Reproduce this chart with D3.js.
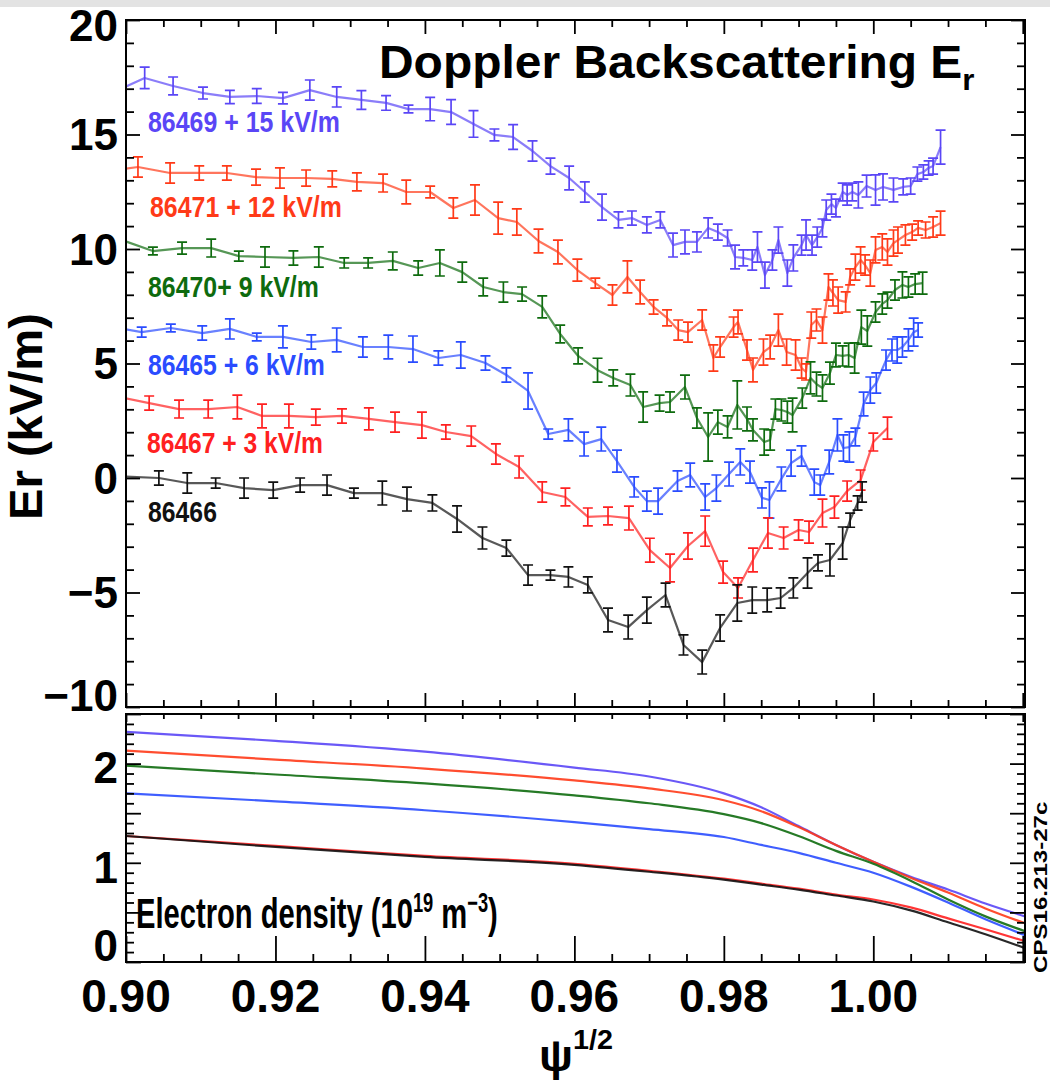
<!DOCTYPE html>
<html>
<head>
<meta charset="utf-8">
<script src="https://cdn.jsdelivr.net/npm/d3@7"></script>
<style>
  html, body { margin: 0; padding: 0; background: #fff; }
  svg { display: block; }
</style>
</head>
<body>
<svg id="chart" width="1050" height="1080"></svg>
<script>
// ---------------- Radial electric field (kV/m) vs psi^(1/2) ----------------
const shots   = ["86469", "86471", "86470", "86465", "86467", "86466"];
const offsets = [15, 12, 9, 6, 3, 0];
const legendText = ["86469 + 15 kV/m", "86471 + 12 kV/m", "86470+ 9 kV/m",
                    "86465 + 6 kV/m", "86467 + 3 kV/m", "86466"];

const psi86469 = [0.8975,0.9025,0.9063,0.9103,0.9139,0.9175,0.9210,0.9246,0.9282,0.9315,0.9348,0.9378,0.9407,0.9435,0.9465,0.9493,0.9518,0.9544,0.9568,0.9593,0.9614,0.9637,0.9659,0.9677,0.9697,0.9715,0.9732,0.9748,0.9764,0.9779,0.9792,0.9805,0.9815,0.9826,0.9838,0.9845,0.9855,0.9865,0.9873,0.9885,0.9893,0.9904,0.9910,0.9918,0.9925,0.9932,0.9937,0.9944,0.9950,0.9959,0.9965,0.9972,0.9980,0.9991,1.0003,1.0013,1.0027,1.0040,1.0050,1.0059,1.0067,1.0074,1.0080,1.0090];
const er86469  = [1.72,2.47,2.12,1.81,1.64,1.68,1.59,1.94,1.64,1.51,1.38,1.11,1.11,0.98,0.46,-0.02,-0.11,-0.72,-1.38,-1.90,-2.51,-3.17,-3.73,-3.65,-3.95,-3.73,-4.83,-4.69,-4.69,-4.08,-4.26,-4.52,-5.35,-5.39,-5.48,-4.91,-6.14,-5.48,-4.61,-6.05,-5.39,-4.83,-4.39,-4.83,-4.48,-4.08,-3.30,-3.04,-3.21,-2.51,-2.64,-2.51,-2.64,-2.25,-2.42,-2.29,-2.42,-2.29,-2.25,-1.73,-1.64,-1.46,-1.38,-0.55];
const err86469 = [0.44,0.47,0.39,0.26,0.29,0.32,0.25,0.44,0.44,0.41,0.32,0.17,0.51,0.54,0.58,0.26,0.54,0.44,0.35,0.52,0.44,0.57,0.35,0.31,0.35,0.35,0.52,0.52,0.44,0.44,0.35,0.35,0.52,0.35,0.44,0.66,0.57,0.44,0.57,0.57,0.57,0.44,0.66,0.44,0.44,0.39,0.44,0.44,0.39,0.39,0.44,0.39,0.57,0.48,0.66,0.57,0.52,0.35,0.35,0.31,0.31,0.31,0.35,0.74];

const psi86471 = [0.8985,0.9016,0.9059,0.9098,0.9135,0.9174,0.9206,0.9241,0.9276,0.9309,0.9344,0.9375,0.9407,0.9438,0.9467,0.9498,0.9523,0.9552,0.9578,0.9604,0.9628,0.9651,0.9671,0.9688,0.9706,0.9724,0.9739,0.9752,0.9771,0.9786,0.9795,0.9813,0.9819,0.9831,0.9839,0.9853,0.9862,0.9873,0.9884,0.9896,0.9904,0.9910,0.9917,0.9924,0.9932,0.9940,0.9946,0.9953,0.9963,0.9969,0.9976,0.9983,0.9989,0.9996,1.0003,1.0012,1.0019,1.0027,1.0033,1.0043,1.0052,1.0060,1.0070,1.0080,1.0090];
const er86471  = [1.45,1.58,1.32,1.32,1.32,1.14,1.10,1.10,1.06,0.93,0.88,0.49,0.49,-0.21,0.14,-0.65,-0.82,-1.65,-2.13,-2.92,-3.49,-4.01,-3.22,-3.88,-4.53,-5.01,-5.54,-5.63,-5.10,-6.76,-6.28,-5.41,-5.19,-6.41,-7.28,-6.50,-6.28,-5.54,-6.50,-6.63,-7.20,-7.37,-5.32,-5.10,-5.54,-3.66,-3.92,-4.23,-4.31,-3.22,-2.79,-2.48,-2.70,-3.05,-2.04,-1.91,-2.13,-1.74,-1.61,-1.39,-1.26,-1.08,-1.17,-1.04,-0.87];
const err86471 = [0.35,0.44,0.44,0.31,0.31,0.35,0.44,0.35,0.35,0.39,0.39,0.52,0.26,0.44,0.66,0.70,0.57,0.52,0.52,0.48,0.22,0.44,0.70,0.52,0.31,0.35,0.44,0.44,0.44,0.57,0.44,0.44,0.52,0.44,0.52,0.57,0.52,0.70,0.57,0.66,0.44,0.35,0.57,0.48,0.57,0.57,0.57,0.57,0.44,0.35,0.57,0.57,0.44,0.57,0.57,0.57,0.57,0.57,0.57,0.44,0.35,0.31,0.35,0.44,0.52];

const psi86470 = [0.8979,0.9036,0.9075,0.9114,0.9151,0.9186,0.9224,0.9258,0.9292,0.9324,0.9357,0.9391,0.9420,0.9450,0.9478,0.9505,0.9530,0.9557,0.9581,0.9605,0.9631,0.9652,0.9675,0.9692,0.9714,0.9728,0.9748,0.9764,0.9779,0.9792,0.9805,0.9818,0.9831,0.9839,0.9854,0.9862,0.9869,0.9877,0.9885,0.9892,0.9905,0.9916,0.9924,0.9932,0.9942,0.9950,0.9959,0.9967,0.9975,0.9984,0.9992,1.0003,1.0012,1.0019,1.0029,1.0039,1.0047,1.0056,1.0066];
const er86470  = [1.57,0.91,1.04,1.04,0.69,0.65,0.61,0.65,0.39,0.39,0.48,0.17,0.39,-0.01,-0.66,-0.88,-0.97,-1.53,-2.71,-3.67,-4.29,-4.63,-4.94,-5.90,-5.73,-5.68,-5.03,-6.38,-7.21,-6.56,-6.77,-5.81,-6.42,-6.90,-7.43,-7.34,-5.99,-6.03,-6.12,-6.25,-5.51,-4.63,-4.90,-5.07,-4.42,-3.63,-3.67,-3.63,-3.76,-2.41,-2.58,-1.75,-1.40,-1.23,-0.79,-0.57,-0.66,-0.53,-0.49];
const err86470 = [0.22,0.17,0.26,0.39,0.22,0.44,0.31,0.44,0.22,0.22,0.39,0.31,0.57,0.44,0.39,0.44,0.31,0.48,0.39,0.35,0.52,0.35,0.48,0.66,0.35,0.44,0.52,0.44,1.05,0.52,0.48,1.05,0.52,0.48,0.57,0.44,0.44,0.48,0.48,0.74,0.44,0.70,0.52,0.57,0.48,0.52,0.44,0.52,0.66,0.74,0.66,0.44,0.44,0.35,0.44,0.57,0.44,0.44,0.48];

const psi86465 = [0.8972,0.9021,0.9060,0.9102,0.9139,0.9175,0.9210,0.9248,0.9282,0.9317,0.9351,0.9384,0.9418,0.9448,0.9481,0.9509,0.9538,0.9565,0.9592,0.9613,0.9636,0.9657,0.9680,0.9697,0.9712,0.9738,0.9755,0.9775,0.9790,0.9807,0.9822,0.9835,0.9851,0.9861,0.9877,0.9890,0.9904,0.9921,0.9929,0.9941,0.9952,0.9960,0.9968,0.9976,0.9987,0.9996,1.0004,1.0017,1.0025,1.0032,1.0039,1.0047,1.0054,1.0060];
const er86465  = [0.64,0.37,0.55,0.33,0.51,0.16,0.16,-0.06,0.03,-0.28,-0.28,-0.37,-0.76,-0.63,-0.98,-1.50,-2.20,-4.08,-3.90,-4.52,-4.30,-5.26,-6.39,-7.01,-7.01,-6.13,-5.87,-6.83,-6.44,-5.83,-5.30,-5.74,-6.87,-6.96,-6.04,-5.35,-5.04,-6.18,-6.31,-5.30,-4.12,-4.69,-4.65,-4.21,-2.77,-2.16,-1.85,-0.85,-0.41,-0.41,-0.28,0.03,0.37,0.46];
const err86465 = [0.22,0.22,0.17,0.31,0.44,0.17,0.48,0.31,0.52,0.44,0.52,0.57,0.31,0.57,0.31,0.31,0.79,0.22,0.48,0.52,0.52,0.48,0.44,0.44,0.57,0.44,0.52,0.57,0.57,0.52,0.57,0.48,0.44,0.79,0.52,0.57,0.44,0.57,0.44,0.52,0.70,0.57,0.66,0.39,0.52,0.57,0.44,0.44,0.48,0.57,0.44,0.48,0.61,0.31];

const psi86467 = [0.8985,0.9031,0.9071,0.9110,0.9149,0.9182,0.9218,0.9254,0.9289,0.9325,0.9360,0.9396,0.9428,0.9462,0.9495,0.9526,0.9557,0.9588,0.9618,0.9645,0.9673,0.9701,0.9728,0.9752,0.9775,0.9799,0.9819,0.9839,0.9859,0.9880,0.9900,0.9914,0.9932,0.9948,0.9965,0.9983,1.0000,1.0019];
const er86467  = [0.58,0.27,0.01,0.01,0.10,-0.29,-0.29,-0.34,-0.29,-0.42,-0.56,-0.69,-0.99,-1.17,-1.95,-2.52,-3.61,-3.83,-4.70,-4.66,-4.75,-6.15,-6.93,-5.97,-5.32,-7.11,-7.80,-6.58,-5.40,-5.62,-5.27,-5.36,-4.53,-4.27,-3.57,-3.09,-1.43,-0.82];
const err86467 = [0.26,0.31,0.39,0.39,0.52,0.52,0.52,0.35,0.31,0.48,0.44,0.57,0.31,0.44,0.44,0.48,0.44,0.39,0.39,0.39,0.52,0.52,0.61,0.57,0.66,0.48,0.44,0.52,0.66,0.48,0.44,0.48,0.61,0.48,0.44,0.44,0.39,0.48];

const psi86466 = [0.8979,0.9044,0.9082,0.9120,0.9158,0.9197,0.9233,0.9269,0.9305,0.9343,0.9376,0.9410,0.9443,0.9477,0.9509,0.9538,0.9568,0.9592,0.9618,0.9645,0.9672,0.9697,0.9722,0.9746,0.9771,0.9795,0.9818,0.9838,0.9858,0.9876,0.9893,0.9912,0.9926,0.9942,0.9959,0.9969,0.9979,0.9985];
const er86466  = [0.09,0.00,-0.22,-0.22,-0.44,-0.53,-0.31,-0.31,-0.66,-0.66,-0.92,-1.09,-1.79,-2.62,-3.06,-4.24,-4.24,-4.32,-4.67,-6.20,-6.51,-5.77,-5.11,-7.29,-8.04,-6.55,-5.46,-5.33,-5.33,-5.24,-4.80,-4.15,-3.71,-3.58,-2.84,-1.84,-1.09,-0.61];
const err86466 = [0.22,0.31,0.44,0.22,0.44,0.35,0.31,0.44,0.22,0.52,0.52,0.35,0.57,0.48,0.35,0.44,0.22,0.44,0.35,0.52,0.52,0.57,0.52,0.44,0.52,0.57,0.79,0.57,0.52,0.44,0.44,0.66,0.35,0.70,0.70,0.31,0.31,0.44];

// ---------------- Electron density (1e19 m^-3) ----------------
const nePsi   = [0.90,0.92,0.94,0.96,0.97,0.98,0.985,0.99,0.995,1.00,1.005,1.01,1.015,1.0203];
const ne86469 = [2.32,2.23,2.12,1.96,1.87,1.70,1.56,1.37,1.18,1.01,0.86,0.73,0.59,0.46];
const ne86471 = [2.13,2.04,1.95,1.83,1.75,1.63,1.52,1.36,1.18,1.01,0.85,0.70,0.54,0.39];
const ne86470 = [1.98,1.89,1.80,1.68,1.60,1.49,1.40,1.27,1.12,0.99,0.82,0.63,0.46,0.31];
const ne86465 = [1.70,1.62,1.53,1.41,1.34,1.26,1.18,1.10,1.00,0.90,0.76,0.60,0.43,0.27];
const ne86467 = [1.27,1.17,1.07,0.99,0.92,0.84,0.79,0.74,0.68,0.63,0.55,0.44,0.33,0.21];
const ne86466 = [1.27,1.16,1.06,0.98,0.91,0.83,0.78,0.73,0.67,0.61,0.52,0.40,0.28,0.14];

// ---------------- Tick labels ----------------
const erTickLabels  = [-10, -5, 0, 5, 10, 15, 20];
const neTickLabels  = [0, 1, 2];
const psiTickLabels = [0.90, 0.92, 0.94, 0.96, 0.98, 1.00];

// ---------------- Drawing ----------------
const FONT = '"Liberation Sans", Arial, Helvetica, sans-serif';
const palette = {
  "86469": "#5a46f6", "86471": "#ff3a18", "86470": "#0e6b0e",
  "86465": "#2a4cff", "86467": "#ff2020", "86466": "#111111"
};

const erSeries = [
  { psi: psi86469, er: er86469, err: err86469 },
  { psi: psi86471, er: er86471, err: err86471 },
  { psi: psi86470, er: er86470, err: err86470 },
  { psi: psi86465, er: er86465, err: err86465 },
  { psi: psi86467, er: er86467, err: err86467 },
  { psi: psi86466, er: er86466, err: err86466 }
].map((s, i) => ({ ...s, shot: shots[i], offset: offsets[i], label: legendText[i] }));

const neSeries = [ne86469, ne86471, ne86470, ne86465, ne86467, ne86466]
  .map((v, i) => ({ shot: shots[i], values: v }));

const svg = d3.select("#chart");
const W = 1050, H = 1080;
const pTop = { l: 126, r: 1025, t: 20,  b: 707 };
const pBot = { l: 126, r: 1025, t: 714, b: 962 };

const x    = d3.scaleLinear().domain([0.9, 1.0203]).range([pTop.l, pTop.r]);
const yEr  = d3.scaleLinear().domain([-10, 20]).range([pTop.b, pTop.t]);
const yNe  = d3.scaleLinear().domain([0, 2.5]).range([pBot.b, pBot.t]);

svg.append("rect").attr("width", W).attr("height", H).attr("fill", "#fff");
svg.append("rect").attr("width", W).attr("height", 7).attr("fill", "#e3e3e3");

const defs = svg.append("defs");
defs.append("clipPath").attr("id", "clip-er").append("rect")
  .attr("x", pTop.l).attr("y", pTop.t).attr("width", pTop.r - pTop.l).attr("height", pTop.b - pTop.t);
defs.append("clipPath").attr("id", "clip-ne").append("rect")
  .attr("x", pBot.l).attr("y", pBot.t).attr("width", pBot.r - pBot.l).attr("height", pBot.b - pBot.t);

// Er profiles with error bars
const gEr = svg.append("g").attr("clip-path", "url(#clip-er)");
const erLine = d3.line().x(d => x(d.p)).y(d => yEr(d.v));
const cap = 5;

erSeries.forEach(s => {
  const pts = s.psi.map((p, j) => ({ p, v: s.er[j] + s.offset, e: s.err[j] }));
  const col = palette[s.shot];
  const g = gEr.append("g");
  g.append("path").datum(pts)
    .attr("d", erLine)
    .attr("fill", "none").attr("stroke", col)
    .attr("stroke-width", 2.2).attr("stroke-opacity", 0.7)
    .attr("stroke-linejoin", "round");
  g.selectAll("path.bar").data(pts).join("path")
    .attr("class", "bar")
    .attr("d", d => {
      const xx = x(d.p), y1 = yEr(d.v - d.e), y2 = yEr(d.v + d.e);
      return `M${xx - cap},${y1}H${xx + cap}M${xx},${y1}V${y2}M${xx - cap},${y2}H${xx + cap}`;
    })
    .attr("fill", "none").attr("stroke", col).attr("stroke-width", 1.7);
});

// density profiles
const gNe = svg.append("g").attr("clip-path", "url(#clip-ne)");
const neLine = d3.line().x((d, j) => x(nePsi[j])).y(d => yNe(d)).curve(d3.curveMonotoneX);
neSeries.forEach(s => {
  gNe.append("path").datum(s.values)
    .attr("d", neLine)
    .attr("fill", "none").attr("stroke", palette[s.shot])
    .attr("stroke-width", 2.2).attr("stroke-opacity", 0.9);
});

// ticks (all inward) via d3 axes
function tickAxis(gen, scale, values, size, tx, ty) {
  const g = svg.append("g").attr("transform", `translate(${tx},${ty})`)
    .call(gen(scale).tickValues(values).tickSize(size).tickFormat(""));
  g.select(".domain").remove();
  g.selectAll(".tick line").attr("stroke", "#000").attr("stroke-width", 1.8);
  return g;
}
const eps = 1e-9;
const psiMajor = d3.range(7).map(i => +(0.90 + i * 0.02).toFixed(2)).filter(v => v <= 1.0203);
const psiMinor = d3.range(25).map(i => +(0.90 + i * 0.005).toFixed(3))
  .filter(v => v <= 1.0203 && !psiMajor.some(m => Math.abs(m - v) < eps));
const erMajor = d3.range(-10, 21, 5);
const erMinor = d3.range(-10, 21).filter(v => v % 5 !== 0);
const neMajor = [0, 0.5, 1, 1.5, 2, 2.5];
const neMinor = d3.range(26).map(i => i / 10).filter(v => Math.abs(v * 2 - Math.round(v * 2)) > eps);

tickAxis(d3.axisTop,    x,   psiMajor, -14, 0, pTop.t);
tickAxis(d3.axisTop,    x,   psiMinor, -7,  0, pTop.t);
tickAxis(d3.axisBottom, x,   psiMajor, -14, 0, pTop.b);
tickAxis(d3.axisBottom, x,   psiMinor, -7,  0, pTop.b);
tickAxis(d3.axisLeft,   yEr, erMajor,  -14, pTop.l, 0);
tickAxis(d3.axisLeft,   yEr, erMinor,  -8,  pTop.l, 0);
tickAxis(d3.axisRight,  yEr, erMajor,  -14, pTop.r, 0);
tickAxis(d3.axisRight,  yEr, erMinor,  -8,  pTop.r, 0);

tickAxis(d3.axisTop,    x,   psiMajor, -8,  0, pBot.t);
tickAxis(d3.axisTop,    x,   psiMinor, -5,  0, pBot.t);
tickAxis(d3.axisBottom, x,   psiMajor, -26, 0, pBot.b);
tickAxis(d3.axisBottom, x,   psiMinor, -8,  0, pBot.b);
tickAxis(d3.axisLeft,   yNe, neMajor,  -15, pBot.l, 0);
tickAxis(d3.axisLeft,   yNe, neMinor,  -8,  pBot.l, 0);
tickAxis(d3.axisRight,  yNe, neMajor,  -15, pBot.r, 0);
tickAxis(d3.axisRight,  yNe, neMinor,  -8,  pBot.r, 0);

// frames
[pTop, pBot].forEach(f => {
  svg.append("rect").attr("x", f.l).attr("y", f.t)
    .attr("width", f.r - f.l).attr("height", f.b - f.t)
    .attr("fill", "none").attr("stroke", "#000").attr("stroke-width", 2);
});

// tick labels (kept inside the frame's vertical extent)
const fmtEr = d3.format("");
svg.append("g").selectAll("text").data(erTickLabels).join("text")
  .attr("x", pTop.l - 8)
  .attr("y", d => Math.max(pTop.t + 5, Math.min(yEr(d), pTop.b - 12)))
  .attr("dy", "0.36em")
  .attr("text-anchor", "end")
  .attr("font-family", FONT).attr("font-weight", "bold").attr("font-size", 44)
  .text(d => fmtEr(d));

svg.append("g").selectAll("text").data(neTickLabels).join("text")
  .attr("x", pBot.l - 8)
  .attr("y", d => Math.min(yNe(d) + 4, pBot.b - 17))
  .attr("dy", "0.36em")
  .attr("text-anchor", "end")
  .attr("font-family", FONT).attr("font-weight", "bold").attr("font-size", 44)
  .text(d => d);

svg.append("g").selectAll("text").data(psiTickLabels).join("text")
  .attr("x", d => x(d))
  .attr("y", pBot.b + 50)
  .attr("text-anchor", "middle")
  .attr("font-family", FONT).attr("font-weight", "bold").attr("font-size", 46)
  .text(d => d3.format(".2f")(d));

// text fitted to a given run length
function fitText(tx, ty, rotate, width, build) {
  const g = svg.append("g").attr("transform", `translate(${tx},${ty})`);
  const t = g.append("text").attr("font-family", FONT).attr("font-weight", "bold");
  build(t);
  const w = t.node().getBBox().width;
  g.attr("transform", `translate(${tx},${ty})${rotate ? ` rotate(${rotate})` : ""} scale(${width / w},1)`);
  return g;
}

// series labels
const labelPlace = [[148, 132, 192], [150, 217, 192], [148, 297, 171],
                    [148, 375, 177], [147, 453, 176], [148, 522, 69]];
erSeries.forEach((s, i) => {
  const [lx, ly, lw] = labelPlace[i];
  fitText(lx, ly, 0, lw, t => t.attr("font-size", 29).attr("fill", palette[s.shot]).text(s.label));
});

// title
fitText(379, 78, 0, 596, t => {
  t.attr("font-size", 46).attr("fill", "#000");
  t.append("tspan").text("Doppler Backscattering E");
  t.append("tspan").attr("font-size", 30).attr("dy", 12).text("r");
});

// axis titles
fitText(42, 520, -90, 207, t => t.attr("font-size", 47).attr("fill", "#000").text("Er (kV/m)"));

fitText(539, 1071, 0, 74, t => {
  t.attr("font-size", 44).attr("fill", "#000");
  t.append("tspan").text("ψ");
  t.append("tspan").attr("font-size", 28).attr("dy", -22).text("1/2");
});

fitText(136, 928, 0, 362, t => {
  t.attr("font-size", 43).attr("fill", "#000");
  t.append("tspan").text("Electron density (10");
  t.append("tspan").attr("font-size", 27).attr("dy", -16).text("19");
  t.append("tspan").attr("dy", 16).text(" m");
  t.append("tspan").attr("font-size", 27).attr("dy", -16).text("−3");
  t.append("tspan").attr("dy", 16).text(")");
});

fitText(1047, 973, -90, 172, t => t.attr("font-size", 19).attr("fill", "#000").text("CPS16.213-27c"));
</script>
</body>
</html>
